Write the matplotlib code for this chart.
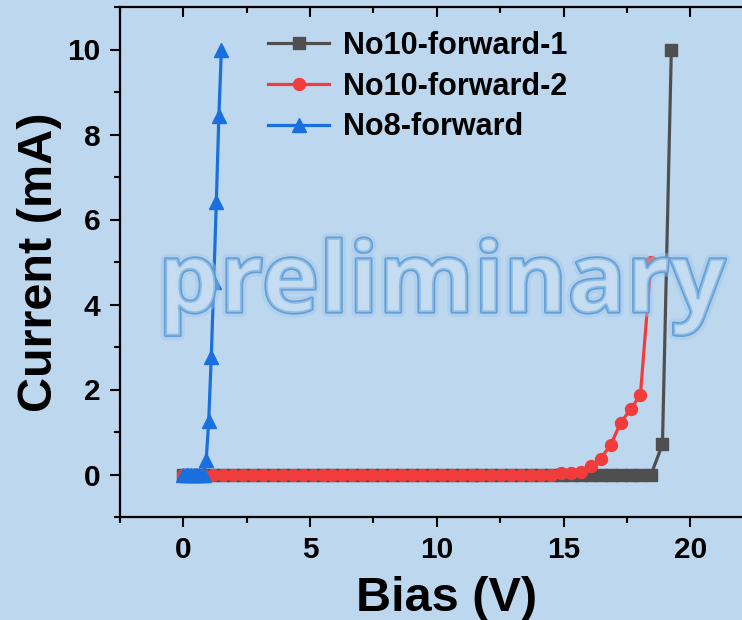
import matplotlib
matplotlib.use("Agg")
import matplotlib.pyplot as plt
import matplotlib.patheffects as pe
from matplotlib.ticker import MultipleLocator

# ---- data ----
bias_sweep = [0.00, 0.39, 0.78, 1.18, 1.57, 1.96, 2.35, 2.74, 3.14, 3.53, 3.92, 4.31,
              4.70, 5.10, 5.49, 5.88, 6.27, 6.66, 7.06, 7.45, 7.84, 8.23, 8.62, 9.02,
              9.41, 9.80, 10.19, 10.58, 10.98, 11.37, 11.76, 12.15, 12.54, 12.94, 13.33, 13.72,
              14.11, 14.50, 14.90, 15.29, 15.68, 16.07, 16.46, 16.86, 17.25, 17.64, 18.03, 18.45]

no10_1_bias = bias_sweep + [18.90, 19.25]
no10_1_current = [0.0] * 48 + [0.71, 10.0]

no10_2_bias = bias_sweep
no10_2_current = [0.0] * 38 + [0.03, 0.04, 0.07, 0.21, 0.37, 0.70, 1.22, 1.53, 1.88, 5.0]

no8_bias = [0.0, 0.1, 0.2, 0.3, 0.4, 0.5, 0.6, 0.7, 0.8, 0.9, 1.0, 1.1, 1.2, 1.3, 1.4, 1.5]
no8_current = [0.0] * 9 + [0.33, 1.27, 2.77, 4.54, 6.42, 8.43, 10.0]

labels = ["No10-forward-1", "No10-forward-2", "No8-forward"]
x_ticks = [0, 5, 10, 15, 20]
y_ticks = [0, 2, 4, 6, 8, 10]

# ---- style ----
bg = "#bdd7ee"
c_gray, c_red, c_blue = "#4f4f4f", "#f23c3c", "#1a6fdf"
plt.rcParams["font.family"] = ["Liberation Sans", "DejaVu Sans"]
plt.rcParams["font.weight"] = "bold"

fig = plt.figure(figsize=(7.42, 6.20), dpi=100, facecolor=bg)
L, R, B, T = 120 / 742, 774 / 742, 1 - 517 / 620, 1 - 7 / 620
ax = fig.add_axes([L, B, R - L, T - B], facecolor=bg)

ax.plot(no10_1_bias, no10_1_current, color=c_gray, lw=2.3, marker="s", ms=8.0,
        label=labels[0])
ax.plot(no10_2_bias, no10_2_current, color=c_red, lw=2.3, marker="o", ms=8.6,
        label=labels[1])
ax.plot(no8_bias, no8_current, color=c_blue, lw=2.3, marker="^", ms=9.5,
        label=labels[2])

ax.set_xlim(-2.5, 23.3)
ax.set_ylim(-1, 11)
ax.set_xticks(x_ticks)
ax.set_yticks(y_ticks)
ax.xaxis.set_minor_locator(MultipleLocator(2.5))
ax.yaxis.set_minor_locator(MultipleLocator(1))

for s in ["left", "bottom", "top"]:
    ax.spines[s].set_linewidth(1.6)
ax.spines["right"].set_visible(False)

ax.tick_params(axis="both", which="major", length=7, width=1.5, labelsize=21.5, pad=7)
ax.tick_params(axis="both", which="minor", length=4, width=1.5)
ax.tick_params(axis="x", which="both", top=True, direction="out")
for t in ax.xaxis.get_major_ticks() + ax.xaxis.get_minor_ticks():
    t.tick2line.set_marker(3)  # top ticks point inward
ax.yaxis.set_tick_params(right=False)

ax.set_xlabel("Bias (V)", fontsize=35, fontweight="bold", labelpad=8)
ax.set_ylabel("Current (mA)", fontsize=35, fontweight="bold", labelpad=4)

leg = ax.legend(loc="upper left", bbox_to_anchor=(268 / 742, 1 - 31 / 620),
                bbox_transform=fig.transFigure, frameon=False, fontsize=22,
                handlelength=2.0, handletextpad=0.45, labelspacing=0.35,
                borderpad=0, borderaxespad=0)
for txt in leg.get_texts():
    txt.set_fontweight("bold")

# watermark
wm = fig.text(442 / 742, 1 - 312 / 620, "preliminary", ha="center", va="baseline",
              fontsize=70, family="Open Sans", fontweight="bold",
              color="#c6ddf2", alpha=0.45, zorder=10)
wm.set_path_effects([
    pe.withStroke(linewidth=7, foreground="#9fc6ea", alpha=0.45),
    pe.withStroke(linewidth=2.4, foreground="#5b9bd5", alpha=0.9),
])

fig.savefig("out.png", dpi=100, facecolor=bg)
